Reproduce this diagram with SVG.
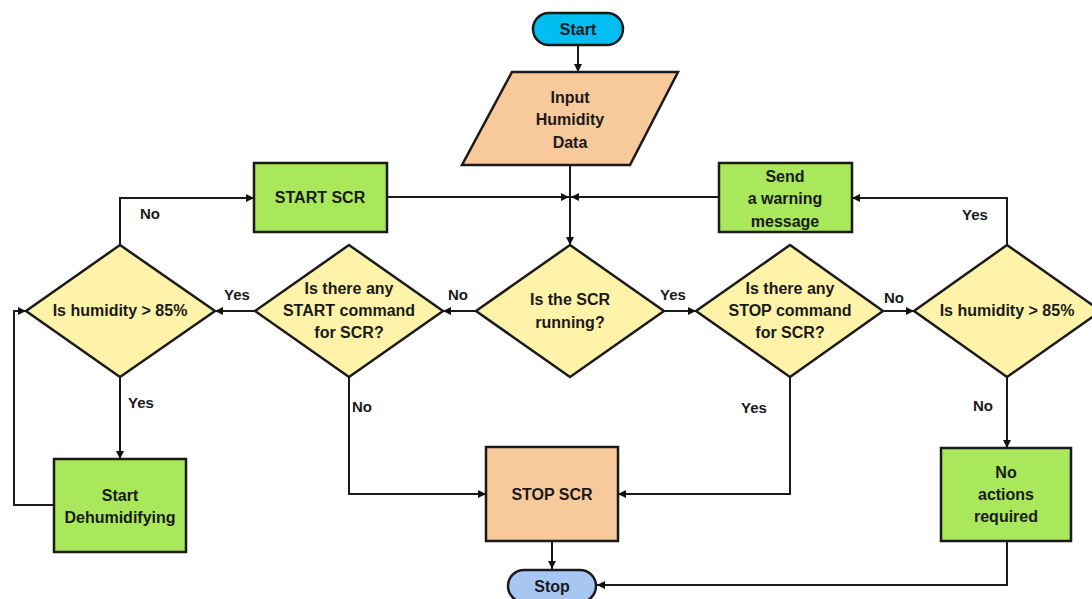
<svg xmlns="http://www.w3.org/2000/svg" width="1092" height="599" viewBox="0 0 1092 599">
<defs>
<marker id="ah" viewBox="0 0 10 10" refX="10" refY="5" markerWidth="8" markerHeight="8" markerUnits="userSpaceOnUse" orient="auto">
<path d="M0,0 L10,5 L0,10 z" fill="#111"/>
</marker>
</defs>
<style>
.t{font-family:"Liberation Sans",Arial,sans-serif;font-weight:bold;font-size:16px;fill:#1a1a1a;text-anchor:middle;dominant-baseline:central}
.lbl{font-family:"Liberation Sans",Arial,sans-serif;font-weight:bold;font-size:15px;fill:#1a1a1a;dominant-baseline:central}
.sh{stroke:#1a1a1a;stroke-width:2.5}
.green{fill:#A9E85B}
.dia{fill:#FFF3A9}
.peach{fill:#F8C99B}
.c{fill:none;stroke:#1a1a1a;stroke-width:2}
.a{marker-end:url(#ah)}
</style>
<rect width="1092" height="599" fill="#ffffff"/>
<g id="connectors">
<path class="c a" d="M578,45 V72"/>
<path class="c a" d="M570,165 V245"/>
<path class="c a" d="M387,197 H569"/>
<path class="c a" d="M719,197 H571"/>
<path class="c a" d="M120,245 V198 H254"/>
<path class="c a" d="M1007,245 V198 H852"/>
<path class="c a" d="M476,311 H443"/>
<path class="c a" d="M255,311 H215"/>
<path class="c a" d="M664,311 H696"/>
<path class="c a" d="M883,311 H914"/>
<path class="c a" d="M120,377 V459"/>
<path class="c a" d="M54,505 H14 V311 H26"/>
<path class="c a" d="M349,377 V494 H486"/>
<path class="c a" d="M790,377 V494 H618"/>
<path class="c a" d="M1007,377 V448"/>
<path class="c a" d="M552,541 V569"/>
<path class="c a" d="M1007,541 V585 H597"/>
<text class="lbl" x="140" y="213">No</text>
<text class="lbl" x="224" y="294">Yes</text>
<text class="lbl" x="448" y="294">No</text>
<text class="lbl" x="660" y="294">Yes</text>
<text class="lbl" x="884" y="297">No</text>
<text class="lbl" x="962" y="214">Yes</text>
<text class="lbl" x="128" y="402">Yes</text>
<text class="lbl" x="352" y="406">No</text>
<text class="lbl" x="741" y="407">Yes</text>
<text class="lbl" x="973" y="405">No</text>
</g>
<g id="start">
<rect class="sh" x="533" y="13" width="90" height="32" rx="16" fill="#00BFF0"/>
<text class="t" x="578" y="29">Start</text>
</g>
<g id="input">
<polygon class="sh peach" points="512,72 678,72 630,165 462,165"/>
<text class="t" x="570" y="97">Input</text>
<text class="t" x="570" y="119">Humidity</text>
<text class="t" x="570" y="142">Data</text>
</g>
<g id="start-scr">
<rect class="sh green" x="254" y="163" width="133" height="69"/>
<text class="t" x="320" y="197">START SCR</text>
</g>
<g id="warning">
<rect class="sh green" x="719" y="163" width="133" height="69"/>
<text class="t" x="785" y="176">Send</text>
<text class="t" x="785" y="198">a warning</text>
<text class="t" x="785" y="221">message</text>
</g>
<g id="humidity-left">
<polygon class="sh dia" points="120,245 215,311 120,377 26,311"/>
<text class="t" x="120" y="310">Is humidity &gt; 85%</text>
</g>
<g id="start-cmd">
<polygon class="sh dia" points="349,245 443,311 349,377 255,311"/>
<text class="t" x="349" y="288">Is there any</text>
<text class="t" x="349" y="310">START command</text>
<text class="t" x="349" y="332">for SCR?</text>
</g>
<g id="running">
<polygon class="sh dia" points="570,245 664,311 570,377 476,311"/>
<text class="t" x="570" y="299">Is the SCR</text>
<text class="t" x="570" y="322">running?</text>
</g>
<g id="stop-cmd">
<polygon class="sh dia" points="790,245 883,311 790,377 696,311"/>
<text class="t" x="790" y="288">Is there any</text>
<text class="t" x="790" y="310">STOP command</text>
<text class="t" x="790" y="332">for SCR?</text>
</g>
<g id="humidity-right">
<polygon class="sh dia" points="1007,245 1101,311 1007,377 914,311"/>
<text class="t" x="1007" y="310">Is humidity &gt; 85%</text>
</g>
<g id="dehumidify">
<rect class="sh green" x="54" y="459" width="132" height="93"/>
<text class="t" x="120" y="495">Start</text>
<text class="t" x="120" y="517">Dehumidifying</text>
</g>
<g id="stop-scr">
<rect class="sh peach" x="486" y="447" width="132" height="94"/>
<text class="t" x="552" y="494">STOP SCR</text>
</g>
<g id="no-action">
<rect class="sh green" x="941" y="448" width="130" height="93"/>
<text class="t" x="1006" y="472">No</text>
<text class="t" x="1006" y="494">actions</text>
<text class="t" x="1006" y="516">required</text>
</g>
<g id="stop">
<rect class="sh" x="508" y="570" width="88" height="32" rx="16" fill="#A8C6F2"/>
<text class="t" x="552" y="586">Stop</text>
</g>
</svg>
